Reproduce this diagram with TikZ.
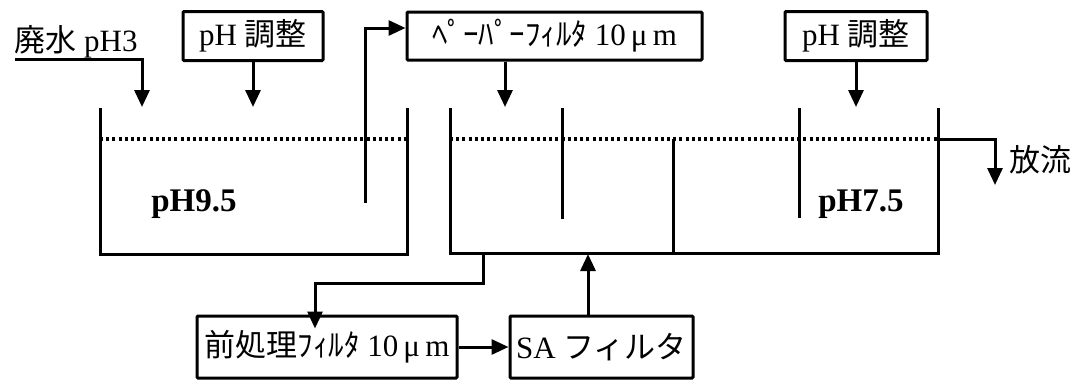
\documentclass[tikz,border=0pt]{standalone}
\usepackage{fontspec}
\setmainfont{Liberation Serif}
\newfontfamily\jp{Noto Sans CJK JP}
\usetikzlibrary{arrows.meta}
\begin{document}
\begin{tikzpicture}[x=1pt, y=-1pt,
    box/.style={draw, line width=3pt, rounded corners=1pt, inner sep=0pt, font=\fontsize{31}{35}\selectfont},
    lbl/.style={inner sep=0pt, font=\fontsize{31}{35}\selectfont},
    wall/.style={line width=3pt},
    level/.style={line width=3.2pt, dash pattern=on 3pt off 3.2pt},
    pipe/.style={line width=3pt, -{Triangle[width=15pt,length=17pt]}}]
    \useasboundingbox (0,0) rectangle (1082,381);

    % Inputs
    \node[lbl] (waste) at (76,42) {{\jp 廃水} pH3};
    \node[box, minimum width=140, minimum height=49] (phA) at (253,36) {pH {\jp 調整}};
    \node[box, minimum width=295, minimum height=48] (paper) at (554.5,36) {{\jp ﾍﾟｰﾊﾟｰﾌｨﾙﾀ} 10\,μ\,m};
    \node[box, minimum width=142, minimum height=49] (phB) at (856,36) {pH {\jp 調整}};

    % Filters below
    \node[box, minimum width=260, minimum height=62] (pre) at (327,347) {{\jp 前処理ﾌｨﾙﾀ} 10\,μ\,m};
    \node[box, minimum width=183, minimum height=62] (sa) at (601.5,347) {SA {\jp フィルタ}};

    % Outflow label
    \node[lbl] (out) at (1040,160) {\jp 放流};

    % Tank 1
    \draw[wall] (100,108) -- (100,254) -- (407,254) -- (407,108);
    \draw[level] (100,139) -- (407,139);
    \node[lbl, font=\fontsize{33}{37}\selectfont\bfseries] (phlow) at (194,204) {pH9.5};

    % Tank 2
    \draw[wall] (450,108) -- (450,253) -- (938,253) -- (938,108);
    \draw[level] (450,139) -- (938,139);
    \draw[wall] (562,108) -- (562,219);
    \draw[wall] (673,139) -- (673,253);
    \draw[wall] (799,108) -- (799,218);
    \node[lbl, font=\fontsize{33}{37}\selectfont\bfseries] (phhigh) at (861,204) {pH7.5};

    % Pipe points
    \coordinate (wasteL) at (15,59);
    \coordinate (inA) at (142,107);
    \coordinate (riser) at (365,203);
    \coordinate (inB) at (505,107);
    \coordinate (outlet) at (938,139);
    \coordinate (drain) at (995,185);
    \coordinate (takeoff) at (483,253);
    \coordinate (bend) at (315,283);
    \coordinate (feed) at (588,254);

    % Arrows
    \draw[pipe] (wasteL) -| (inA);
    \draw[pipe] (phA) -- (phA |- inA);
    \draw[pipe] (riser) |- ([yshift=8pt]paper.west);
    \draw[pipe] (paper.south -| inB) -- (inB);
    \draw[pipe] (phB) -- (phB |- inA);
    \draw[pipe] (outlet) -| (drain);
    \draw[pipe, shorten >=-14pt] (takeoff) |- (bend) -- (bend |- pre.north);
    \draw[pipe] (pre) -- (sa);
    \draw[pipe] (sa.north -| feed) -- (feed);
\end{tikzpicture}
\end{document}
